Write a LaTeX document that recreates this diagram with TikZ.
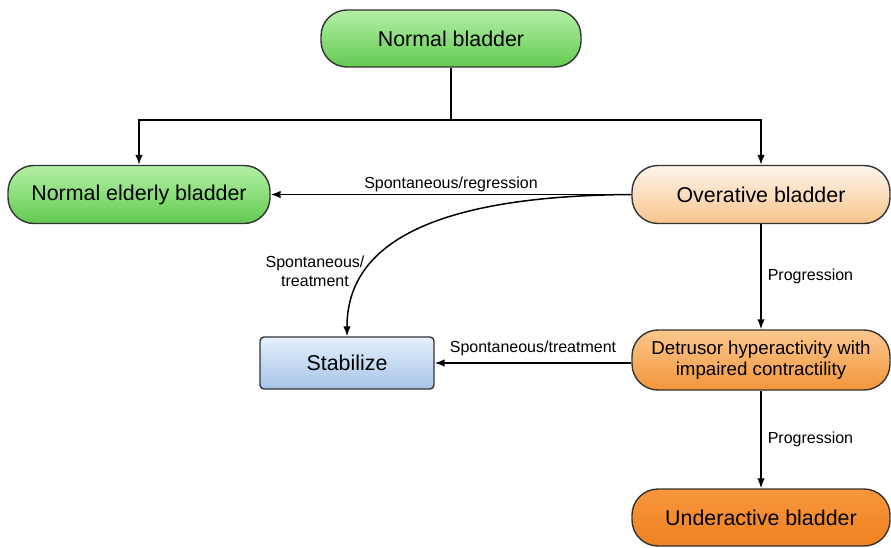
\documentclass[tikz,border=0pt]{standalone}
\usepackage{fontspec}
\setmainfont{Liberation Sans}
\usetikzlibrary{arrows.meta}
\definecolor{grT}{HTML}{B4F0A6}
\definecolor{grB}{HTML}{62CA50}
\definecolor{ovT}{HTML}{FFF6EC}
\definecolor{ovB}{HTML}{F8C48C}
\definecolor{deT}{HTML}{FCC88E}
\definecolor{deB}{HTML}{F2953A}
\definecolor{unT}{HTML}{F8963C}
\definecolor{unB}{HTML}{EE8222}
\definecolor{stT}{HTML}{E6F0FB}
\definecolor{stB}{HTML}{A6C4E8}
\definecolor{edge}{HTML}{333333}
\tikzset{
  pill/.style={draw=edge, line width=1.4pt, rounded corners=26pt, minimum width=258pt, minimum height=58pt, align=center, font=\fontsize{21.4}{24}\selectfont, inner sep=0pt},
  boxs/.style={draw=edge, line width=1.4pt, rounded corners=4pt, minimum width=174pt, minimum height=52pt, align=center, font=\fontsize{21.4}{24}\selectfont, inner sep=0pt},
  conn/.style={line width=1.5pt, black},
  arr/.style={conn, -{Latex[length=10pt,width=7.5pt]}},
  lbl/.style={font=\fontsize{16}{19}\selectfont, inner sep=1pt}
}
\begin{document}
\begin{tikzpicture}[x=1pt,y=-1pt]
\useasboundingbox (0,0) rectangle (891,548);
\node[pill, minimum width=260pt, minimum height=57pt, top color=grT, bottom color=grB] (nb) at (451,38.5) {Normal bladder};
\node[pill, minimum width=262pt, top color=grT, bottom color=grB] (ne) at (139,194.5) {Normal elderly bladder};
\node[pill, top color=ovT, bottom color=ovB] (ov) at (761,194.5) {Overative bladder};
\node[boxs, top color=stT, bottom color=stB] (st) at (347,363) {Stabilize};
\node[pill, minimum height=60pt, font=\fontsize{18.7}{21.5}\selectfont, top color=deT, bottom color=deB] (de) at (761,360) {Detrusor hyperactivity with\\impaired contractility};
\node[pill, minimum height=57pt, top color=unT, bottom color=unB] (un) at (761,517.5) {Underactive bladder};
\coordinate (j) at (451,120);
\draw[conn] (nb.south) -- (j);
\draw[arr] (j) -| (ne.north);
\draw[arr] (j) -| (ov.north);
\draw[arr] (ov.west) -- node[lbl, above, pos=0.5, yshift=1pt] {Spontaneous/regression} (ne.east);
\draw[arr] (ov.west) .. controls (420,196) and (347,250) .. (st.north);
\node[lbl, align=center] (l1) at (315,271) {Spontaneous/\\treatment};
\draw[arr] (ov.south) -- node[lbl, right, xshift=5pt] {Progression} (de.north);
\draw[arr] ([yshift=-3pt]de.west) -- node[lbl, above, yshift=5pt] {Spontaneous/treatment} (st.east);
\draw[arr] (de.south) -- node[lbl, right, xshift=5pt] {Progression} (un.north);
\end{tikzpicture}
\end{document}
